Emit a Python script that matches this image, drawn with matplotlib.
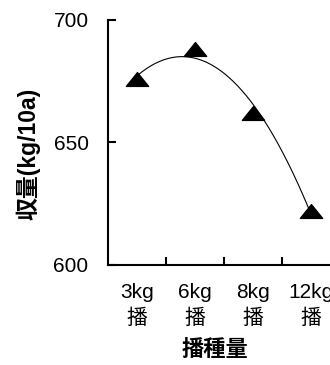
import numpy as np
import matplotlib
matplotlib.use("Agg")
import matplotlib.pyplot as plt
from matplotlib.path import Path

plt.rcParams['font.family'] = ['Liberation Sans', 'Noto Sans CJK JP', 'DejaVu Sans']

categories = ["3kg\n播", "6kg\n播", "8kg\n播", "12kg\n播"]
yields = [676, 688, 662, 622]
yticks = [600, 650, 700]

fig = plt.figure(figsize=(3.3, 3.65), dpi=100)
ax = fig.add_axes([108/330, 1-265/365, 232/330, 245/365])

x = np.arange(len(categories))
coef = np.polyfit(x, yields, 2)
xs = np.linspace(0, len(categories)-1, 200)
ax.plot(xs, np.polyval(coef, xs), color='black', lw=0.8)

tri = Path([(-1, -0.62), (1, -0.62), (0, 0.62), (-1, -0.62)],
           [Path.MOVETO, Path.LINETO, Path.LINETO, Path.CLOSEPOLY])
ax.plot(x, yields, linestyle='none', marker=tri, markersize=16, color='black')

ax.set_xlim(-0.5, len(categories)-0.5)
ax.set_ylim(600, 700)
ax.set_yticks(yticks)
ax.set_xticks(x)
ax.set_xticklabels(categories, fontsize=15, linespacing=1.45)
ax.set_xticks(np.arange(0.5, len(categories)-0.5, 1), minor=True)
ax.tick_params(axis='x', which='major', length=0, pad=13)
ax.tick_params(axis='x', which='minor', direction='in', length=6, width=1.5)
ax.tick_params(axis='y', direction='in', length=6, width=1.5, labelsize=15, pad=14)
for s in ['top', 'right']:
    ax.spines[s].set_visible(False)
for s in ['left', 'bottom']:
    ax.spines[s].set_linewidth(1.5)

fig.text(28/330, 1-154/365, '収量(kg/10a)', fontsize=16.5, fontweight='bold',
         rotation=90, ha='center', va='center')
fig.text(215/330, 1-350/365, '播種量', fontsize=16, fontweight='bold',
         ha='center', va='center', family=['Noto Sans CJK JP', 'DejaVu Sans'])

fig.savefig('out.png', dpi=100)
